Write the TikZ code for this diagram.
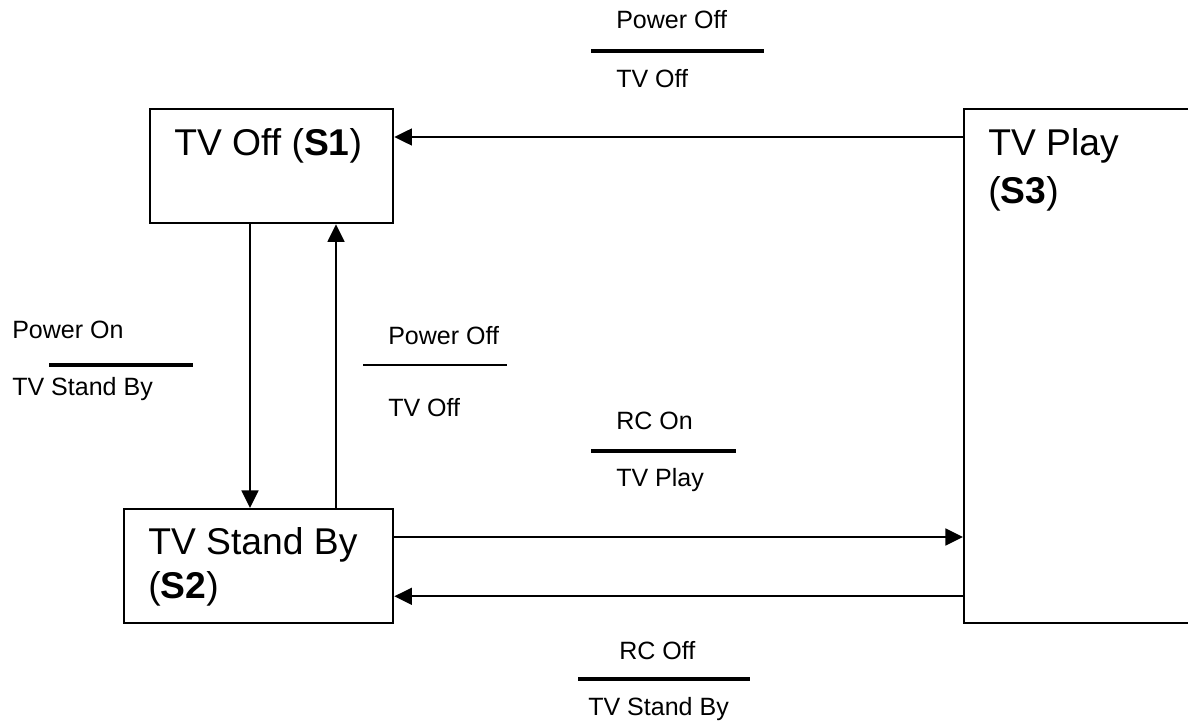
\documentclass[tikz,border=0pt]{standalone}
\usepackage{fontspec}
\setmainfont{Liberation Sans}
\usetikzlibrary{arrows.meta,positioning,calc}

\begin{document}
\begin{tikzpicture}[x=0.025cm, y=-0.025cm,
  state/.style={draw, line width=1.6pt, anchor=north west, minimum height=2.85cm, inner sep=0pt},
  big/.style={anchor=base west, inner sep=0pt, font=\fontsize{26.5}{31}\selectfont},
  cond/.style={anchor=base west, inner sep=0pt, font=\fontsize{17.8}{21}\selectfont},
  bar/.style={line width=2.6pt},
  arrow/.style={-{Triangle[length=12.5pt, width=12pt]}, line width=1.3pt}
]
\clip (0,0) rectangle (1188,722);
\node[state, minimum width=6.075cm] (s1) at (149,108) {};
\node[state, minimum width=6.725cm] (s2) at (123,508) {};
\node[state, minimum width=7cm, minimum height=12.85cm] (s3) at (963,108) {};

\node[big] (s1name) at (174,156) {TV Off (\textbf{S1})};
\node[big] (s2name) at (148,554) {TV Stand By};
\node[big] (s2id) at (148,598) {(\textbf{S2})};
\node[big] (s3name) at (988,156) {TV Play};
\node[big] (s3id) at (988,203) {(\textbf{S3})};

\coordinate (p1) at ($(s2.north east)+(0,29)$);
\coordinate (p2) at ($(s2.south east)+(0,-28)$);
\coordinate (p3) at ($(s1.south west)+(101,0)$);
\coordinate (p4) at ($(s1.south west)+(187,0)$);
\draw[arrow] ($(s3.north west)+(0,29)$) -- ($(s1.north east)+(0,29)$);
\draw[arrow] (p3) -- (p3 |- s2.north);
\draw[arrow] (p4 |- s2.north) -- (p4);
\draw[arrow] (p1) -- (p1 -| s3.west);
\draw[arrow] (p2 -| s3.west) -- (p2);

\node[cond] (offtop) at (616,29) {Power Off};
\node[cond] (offtopres) at (616,88) {TV Off};
\coordinate (bar1l) at (591,51); \coordinate (bar1r) at (764,51);
\draw[bar] (bar1l) -- (bar1r);

\node[cond] (on) at (12,338) {Power On};
\node[cond] (onres) at (12,395) {TV Stand By};
\coordinate (bar2l) at (49,365); \coordinate (bar2r) at (193,365);
\draw[bar] (bar2l) -- (bar2r);

\node[cond] (offmid) at (388,344) {Power Off};
\node[cond] (offmidres) at (388,416) {TV Off};
\coordinate (bar3l) at (363,365); \coordinate (bar3r) at (507,365);
\draw[line width=1.5pt] (bar3l) -- (bar3r);

\node[cond] (rcon) at (616,429) {RC On};
\node[cond] (rconres) at (616,486) {TV Play};
\coordinate (bar4l) at (591,451); \coordinate (bar4r) at (736,451);
\draw[bar] (bar4l) -- (bar4r);

\node[cond] (rcoff) at (619,659) {RC Off};
\node[cond] (rcoffres) at (588,715) {TV Stand By};
\coordinate (bar5l) at (578,679); \coordinate (bar5r) at (750,679);
\draw[bar] (bar5l) -- (bar5r);
\end{tikzpicture}
\end{document}
